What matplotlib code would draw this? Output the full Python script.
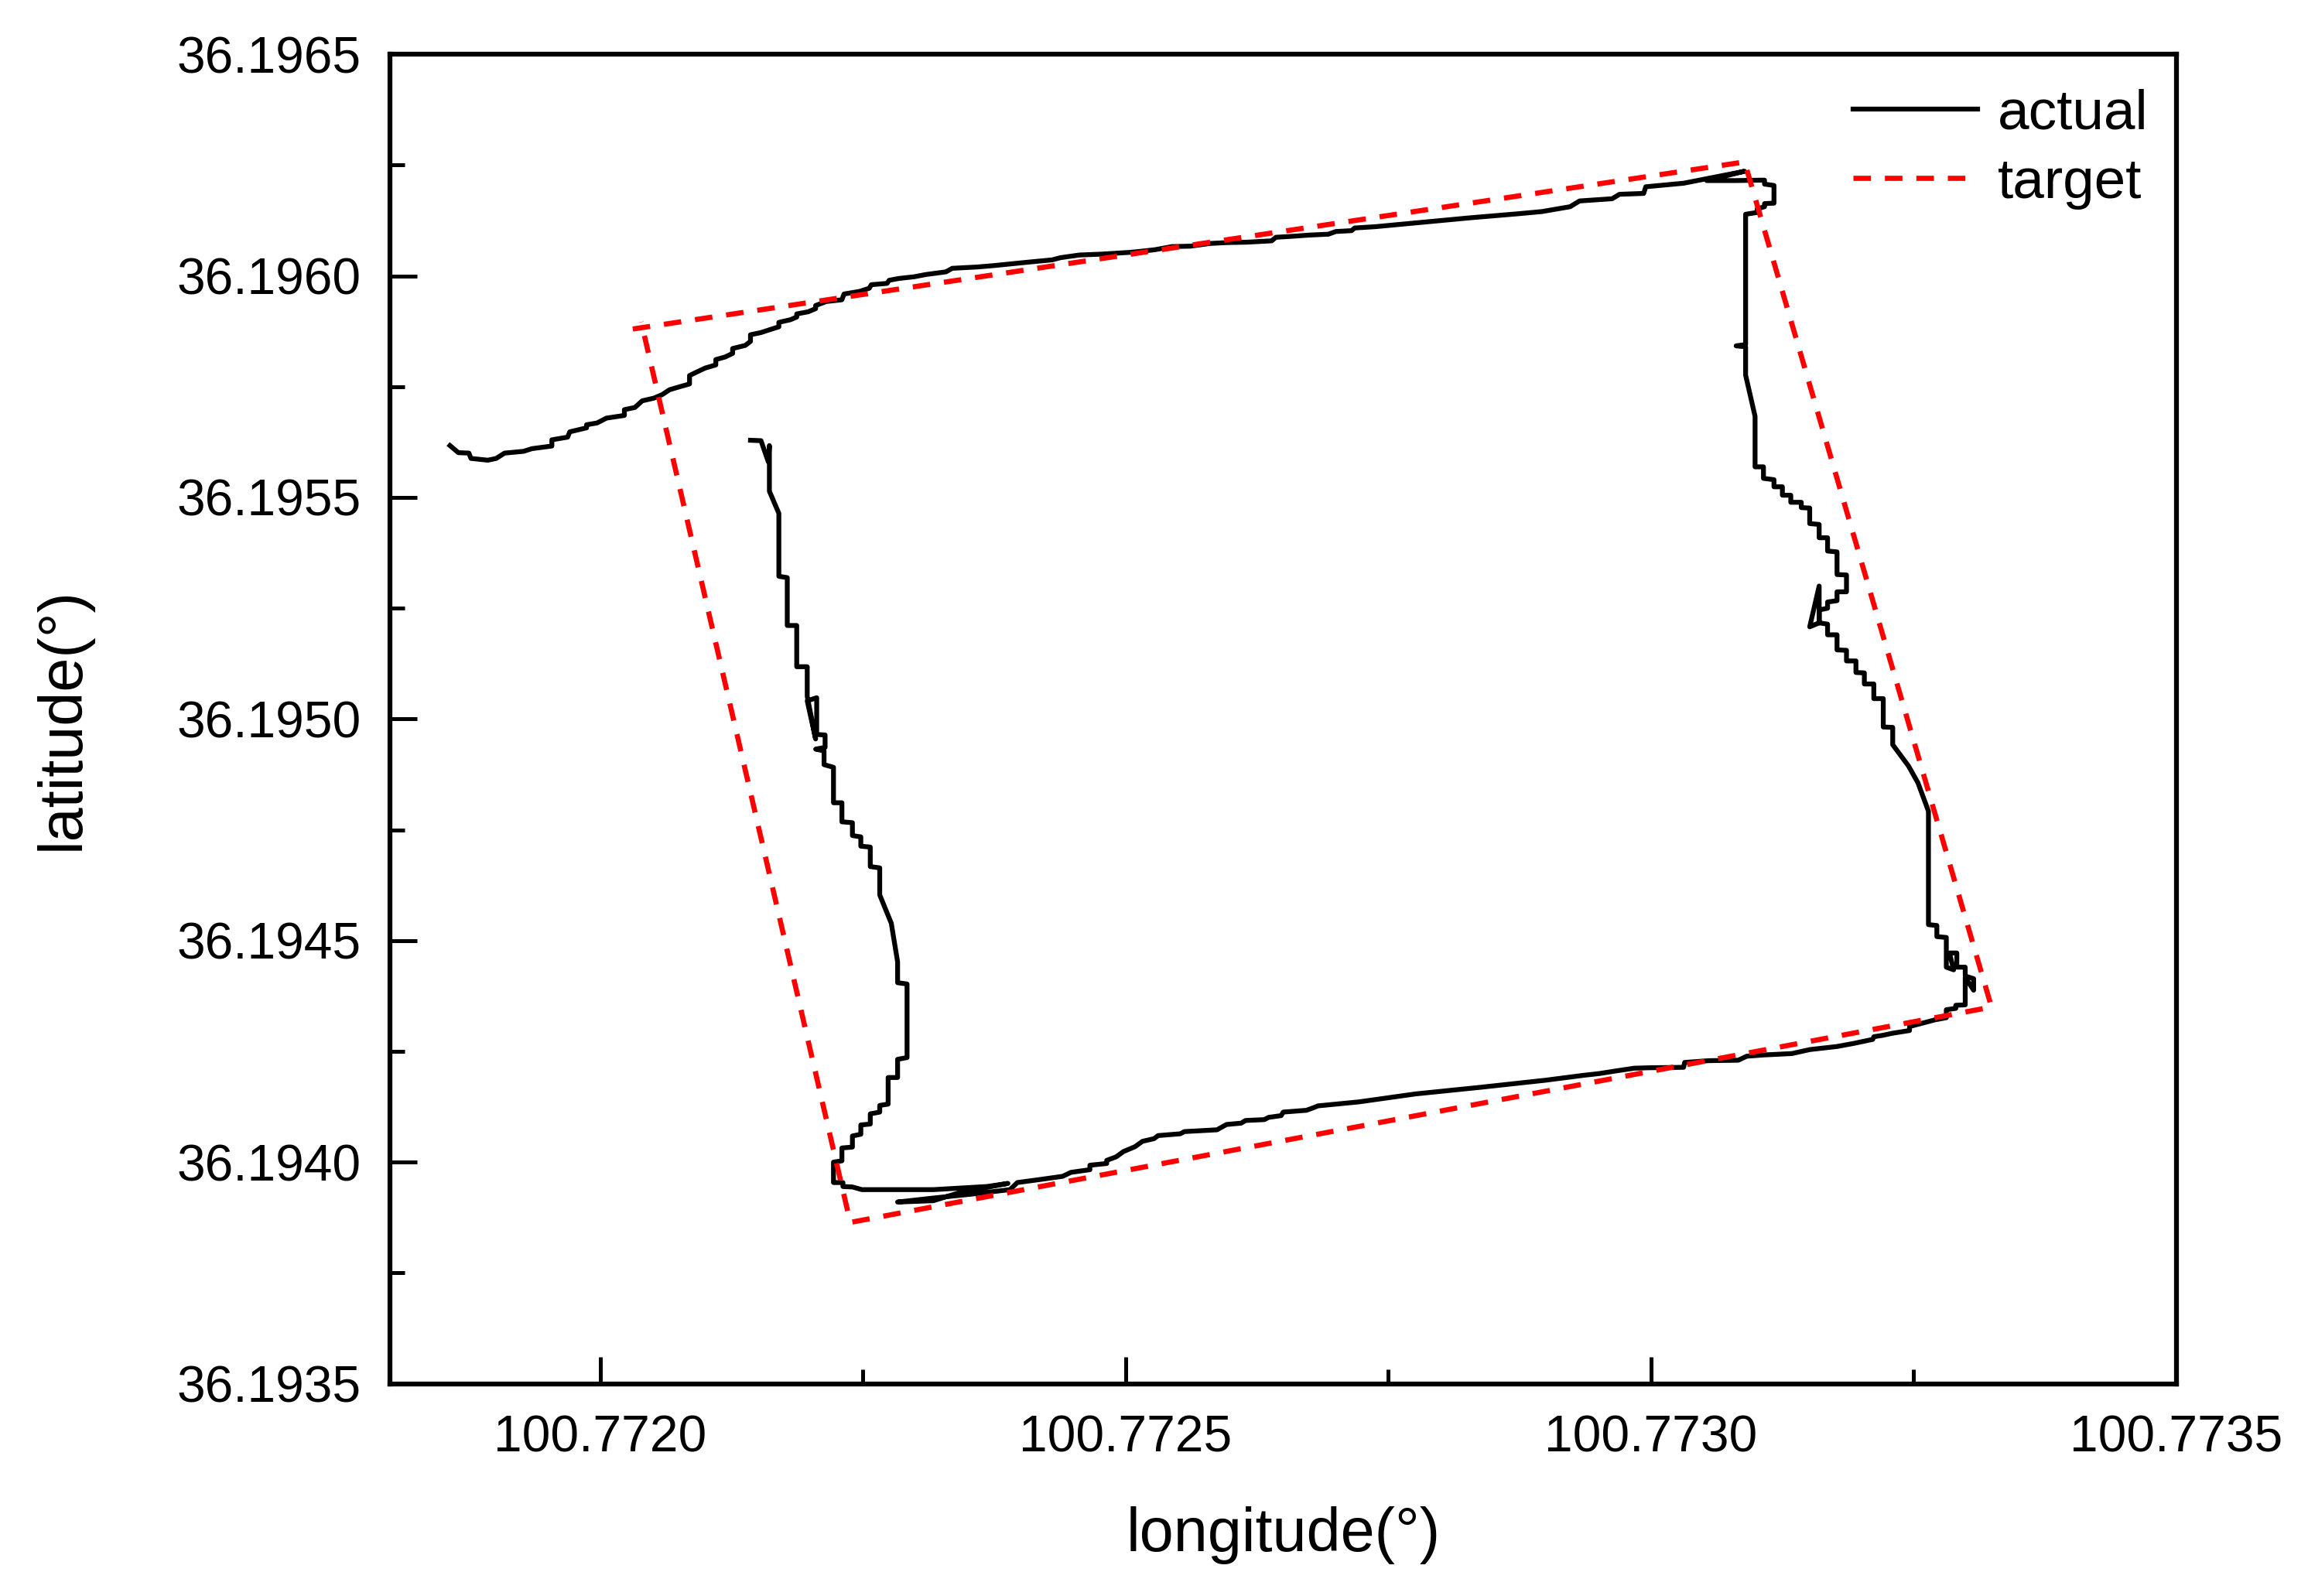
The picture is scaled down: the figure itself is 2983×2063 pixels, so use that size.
import matplotlib
matplotlib.use('Agg')
import matplotlib.pyplot as plt
from matplotlib.ticker import FixedLocator, AutoMinorLocator, FormatStrFormatter

plt.rcParams['font.family'] = ['Liberation Sans', 'DejaVu Sans']

# positions, as offsets in 1e-6 degree from the lower-left corner
LON0 = 100.7718
LAT0 = 36.1935
UNIT = 1e-6

# actual track, split in four legs: (lon offset, lat offset)
leg_top = [(57, 2117), (65, 2101), (75, 2100), (77, 2088), (93, 2084), (101, 2088),
           (109, 2100), (127, 2104), (135, 2110), (154, 2116), (154, 2130), (169, 2136),
           (171, 2148), (187, 2157), (187, 2164), (197, 2168), (206, 2179), (223, 2185),
           (223, 2198), (233, 2203), (240, 2218), (251, 2224), (259, 2232), (266, 2243),
           (276, 2250), (285, 2256), (285, 2275), (291, 2282), (300, 2292), (310, 2299),
           (310, 2311), (319, 2317), (326, 2325), (326, 2336), (338, 2343), (343, 2352),
           (343, 2367), (353, 2372), (362, 2379), (370, 2385), (370, 2395), (381, 2401),
           (387, 2407), (387, 2414), (398, 2419), (405, 2426), (405, 2433), (415, 2442),
           (430, 2446), (432, 2459), (447, 2465), (456, 2472), (458, 2480), (473, 2483),
           (475, 2490), (484, 2494), (499, 2498), (510, 2503), (529, 2509), (535, 2517),
           (559, 2520), (574, 2523), (595, 2528), (612, 2532), (630, 2536), (638, 2541),
           (656, 2547), (677, 2549), (704, 2553), (713, 2555), (728, 2559), (744, 2566),
           (762, 2567), (780, 2573), (796, 2575), (816, 2576), (839, 2579), (843, 2587),
           (857, 2589), (875, 2592), (893, 2594), (900, 2600), (915, 2602), (918, 2608),
           (938, 2611), (983, 2621), (1028, 2631), (1073, 2640), (1096, 2645), (1123, 2656),
           (1132, 2669), (1163, 2674), (1170, 2684), (1193, 2686), (1195, 2701), (1231, 2709),
           (1289, 2736), (1253, 2715), (1280, 2715), (1308, 2716), (1308, 2707), (1317, 2704),
           (1317, 2664), (1308, 2663), (1308, 2656), (1301, 2651), (1301, 2643), (1290, 2639)]

leg_right = [(1290, 2345), (1281, 2342), (1290, 2340), (1290, 2276), (1299, 2183),
             (1299, 2069), (1307, 2069), (1307, 2043), (1317, 2040), (1317, 2024),
             (1325, 2024), (1325, 2005), (1333, 2005), (1333, 1989), (1343, 1989),
             (1343, 1977), (1351, 1976), (1351, 1941), (1360, 1939), (1360, 1909),
             (1368, 1909), (1368, 1879), (1377, 1877), (1377, 1826), (1386, 1825),
             (1386, 1787), (1377, 1787), (1377, 1767), (1368, 1764), (1368, 1750),
             (1360, 1746), (1360, 1717), (1360, 1800), (1351, 1708), (1360, 1717),
             (1368, 1714), (1368, 1690), (1377, 1690), (1377, 1656), (1386, 1655),
             (1386, 1631), (1395, 1631), (1395, 1605), (1403, 1604), (1403, 1579),
             (1412, 1579), (1412, 1546), (1421, 1546), (1421, 1482), (1430, 1481),
             (1430, 1442), (1445, 1394), (1454, 1356), (1464, 1292), (1464, 1036),
             (1472, 1034), (1472, 1009), (1481, 1007), (1481, 940), (1488, 934),
             (1484, 972), (1491, 972), (1491, 940), (1499, 940), (1499, 920),
             (1507, 914), (1507, 888), (1499, 917), (1499, 855), (1490, 854),
             (1490, 847), (1481, 844), (1481, 826), (1470, 821), (1454, 811),
             (1446, 806), (1446, 797), (1430, 791), (1420, 786), (1412, 783)]

leg_bottom = [(1411, 777), (1393, 768), (1377, 761), (1351, 754), (1334, 745), (1308, 742),
              (1291, 739), (1283, 730), (1255, 729), (1232, 725), (1231, 714), (1198, 713),
              (1184, 712), (1167, 706), (1151, 700), (1136, 696), (1100, 685), (1038, 669),
              (976, 654), (922, 636), (883, 627), (879, 623), (872, 617), (850, 613),
              (848, 605), (836, 601), (832, 596), (814, 594), (810, 588), (796, 585),
              (787, 573), (756, 569), (752, 564), (731, 560), (727, 553), (716, 547),
              (709, 535), (698, 524), (691, 512), (682, 504), (682, 497), (666, 493),
              (666, 483), (648, 477), (640, 468), (619, 461), (597, 454), (590, 438),
              (554, 428), (517, 419), (483, 410), (517, 413), (543, 432), (588, 452),
              (568, 445), (517, 438), (449, 438), (440, 444), (431, 445), (431, 454),
              (422, 454)]

leg_left = [(422, 500), (430, 503), (430, 532), (440, 534), (440, 559), (448, 563),
            (448, 584), (457, 586), (457, 609), (466, 613), (466, 628), (474, 631),
            (474, 691), (483, 691), (483, 732), (492, 736), (492, 902), (483, 905),
            (483, 952), (477, 1039), (466, 1103), (466, 1164), (457, 1167), (457, 1211),
            (448, 1213), (448, 1234), (440, 1237), (440, 1266), (430, 1268), (430, 1311),
            (422, 1311), (422, 1391), (413, 1397), (413, 1428), (405, 1432), (414, 1436),
            (414, 1464), (406, 1465), (406, 1548), (397, 1541), (405, 1455), (397, 1551),
            (397, 1618), (387, 1618), (387, 1711), (378, 1711), (378, 1819), (370, 1822),
            (370, 1964), (361, 2014), (361, 2117), (360, 2080), (353, 2128), (343, 2129)]

# planned path (corners)
target = [(231, 2380), (1289, 2757), (1524, 850), (438, 364), (239, 2396)]

x_ticks = [100.7720, 100.7725, 100.7730, 100.7735]
y_ticks = [36.1935, 36.1940, 36.1945, 36.1950, 36.1955, 36.1960, 36.1965]

track = leg_top + leg_right + leg_bottom + leg_left
act_lon = [LON0 + p[0] * UNIT for p in track]
act_lat = [LAT0 + p[1] * UNIT for p in track]
tgt_lon = [LON0 + p[0] * UNIT for p in target]
tgt_lat = [LAT0 + p[1] * UNIT for p in target]

fig = plt.figure(figsize=(2983 / 300, 2063 / 300), dpi=300)
ax = fig.add_axes([0.169, 0.133, 0.774, 0.833])

ax.plot(act_lon, act_lat, color='black', lw=1.5, label='actual')
ax.plot(tgt_lon, tgt_lat, color='red', lw=1.6, dashes=(3.4, 2.7), label='target')

ax.set_xlim(100.7718, 100.7735)
ax.set_ylim(36.1935, 36.1965)
ax.xaxis.set_major_locator(FixedLocator(x_ticks))
ax.yaxis.set_major_locator(FixedLocator(y_ticks))
ax.xaxis.set_minor_locator(AutoMinorLocator(2))
ax.yaxis.set_minor_locator(AutoMinorLocator(2))
ax.xaxis.set_major_formatter(FormatStrFormatter('%.4f'))
ax.yaxis.set_major_formatter(FormatStrFormatter('%.4f'))

ax.tick_params(which='both', direction='in', top=False, right=False, width=1.2)
ax.tick_params(which='major', length=8.4, labelsize=15.8)
ax.tick_params(axis='x', which='major', pad=9.5)
ax.tick_params(axis='y', which='major', pad=9)
ax.tick_params(which='minor', length=4.5)
for s in ax.spines.values():
    s.set_linewidth(1.5)

ax.set_xlabel('longitude(°)', fontsize=19, va='center')
ax.set_ylabel('latitude(°)', fontsize=19, va='center')
ax.xaxis.set_label_coords(0.5, -0.114)
ax.yaxis.set_label_coords(-0.183, 0.5)

ax.legend(loc='upper right', bbox_to_anchor=(0.984, 0.974), frameon=False,
          fontsize=17.5, handlelength=2.2, handletextpad=0.35, labelspacing=0.3,
          borderpad=0, borderaxespad=0)

fig.savefig('out.png', dpi=300)
